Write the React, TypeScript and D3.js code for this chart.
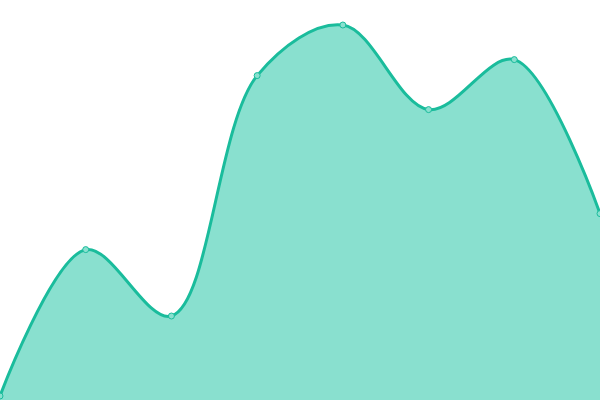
import { useEffect, useRef } from "react";
import * as d3 from "d3";

const width = 600;
const height = 400;

// x index of each point, and its value
const steps = [0, 1, 2, 3, 4, 5, 6, 7];
const values = [1, 37.6, 21, 81.1, 93.75, 72.6, 85.1, 46.6];

const App = () => {
  const svgRef = useRef<SVGSVGElement>(null);

  const xScale = d3.scaleLinear().domain([0, 7]).range([0, width]);
  const yScale = d3.scaleLinear().domain([0, 100]).range([height, 0]);

  const data = steps.map((s, i) => ({ s, v: values[i] }));

  useEffect(() => {
    if (!svgRef.current) return;
    const svg = d3.select(svgRef.current);
    svg.selectAll("*").remove();

    const area = d3
      .area<{ s: number; v: number }>()
      .x((d) => xScale(d.s))
      .y0(height)
      .y1((d) => yScale(d.v))
      .curve(d3.curveCatmullRom);

    const line = d3
      .line<{ s: number; v: number }>()
      .x((d) => xScale(d.s))
      .y((d) => yScale(d.v))
      .curve(d3.curveCatmullRom);

    svg.append("path").datum(data).attr("fill", "#89e0cf").attr("d", area);

    svg
      .append("path")
      .datum(data)
      .attr("fill", "none")
      .attr("stroke", "#1abc9c")
      .attr("stroke-width", 3)
      .attr("d", line);

    // point markers
    svg
      .selectAll("circle")
      .data(data)
      .enter()
      .append("circle")
      .attr("cx", (d) => xScale(d.s))
      .attr("cy", (d) => yScale(d.v))
      .attr("r", 3)
      .attr("fill", "#89e0cf")
      .attr("stroke", "#1abc9c")
      .attr("stroke-width", 1);
  }, []);

  return (
    <div style={{ position: "fixed", left: 0, top: 0, width, height, background: "#fff" }}>
      <svg ref={svgRef} width={width} height={height} style={{ display: "block", overflow: "hidden" }}></svg>
    </div>
  );
};

export default App;
